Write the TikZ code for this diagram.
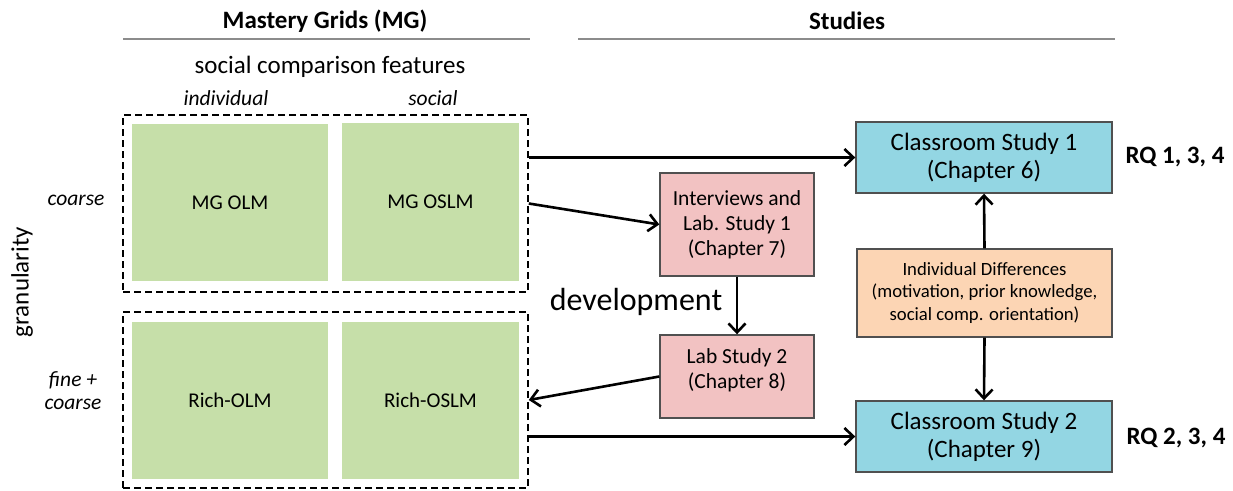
\documentclass[tikz,border=0pt]{standalone}
\usepackage{fontspec}
\setmainfont{Carlito}
\usetikzlibrary{arrows.meta,calc}
\definecolor{cellgreen}{HTML}{C6DFA9}
\definecolor{studyblue}{HTML}{93D6E3}
\definecolor{labpink}{HTML}{F2C2C2}
\definecolor{diffpeach}{HTML}{FCD5B4}
\definecolor{boxedge}{HTML}{505050}
\definecolor{rulegray}{HTML}{8C8C8C}
\tikzset{
  fs/.style 2 args={font=\fontsize{#1}{#2}\selectfont},
  cell/.style={fill=cellgreen, draw=none, inner sep=0pt, fs={21}{24}, align=center},
  group/.style={draw=black, line width=1.6pt, dash pattern=on 7pt off 4pt, inner sep=0pt},
  studybox/.style={fill=studyblue, draw=boxedge, line width=1.4pt, inner sep=0pt, minimum width=256pt, minimum height=71pt, align=center, fs={25}{28}},
  labbox/.style={fill=labpink, draw=boxedge, line width=1.4pt, inner sep=0pt, minimum width=154pt, align=center, fs={21.5}{25}},
  labtext/.style={align=center, fs={21.5}{25}, inner sep=0pt},
  diffbox/.style={fill=diffpeach, draw=boxedge, line width=1.4pt, inner sep=0pt, minimum width=255pt, minimum height=88pt, align=center, fs={18.7}{22.5}},
  flow/.style={line width=2.6pt, -{Straight Barb[length=9pt,width=17pt,line width=2.6pt]}},
  header/.style={font=\fontsize{25}{28}\selectfont\bfseries},
  headrule/.style={draw=rulegray, line width=2.6pt},
  axislabel/.style={font=\fontsize{21.5}{23}\selectfont\itshape, align=center},
  rq/.style={font=\fontsize{25}{28}\selectfont\bfseries},
}
\begin{document}
\begin{tikzpicture}[x=1pt,y=-1pt]
\useasboundingbox (0,0) rectangle (1233,490);

% column headers
\node[header] (mghead) at (325,21) {Mastery Grids (MG)};
\coordinate (mgruleL) at (123,39);
\coordinate (mgruleR) at (530,39);
\draw[headrule] (mgruleL) -- (mgruleR);
\node[header] (sthead) at (847,21) {Studies};
\coordinate (struleL) at (578,39);
\coordinate (struleR) at (1115,39);
\draw[headrule] (struleL) -- (struleR);

% feature axis
\node[fs={25}{28}] (feat) at (330,67) {social comparison features};
\node[axislabel] (indiv) at (226,98) {individual};
\node[axislabel] (soc) at (433,98) {social};

% granularity axis
\node[fs={25}{28}, rotate=90] (gran) at (22,282) {granularity};
\node[axislabel] (coarse) at (76,200) {coarse};
\node[axislabel] (finecoarse) at (73,391) {fine +\\coarse};

% learner model variants
\node[cell, minimum width=196pt, minimum height=157pt] (olm) at (230,202.5) {MG OLM};
\node[cell, minimum width=177pt, minimum height=158pt] (oslm) at (430.5,202) {MG OSLM};
\node[cell, minimum width=196pt, minimum height=157pt] (rolm) at (230,400.5) {Rich-OLM};
\node[cell, minimum width=177pt, minimum height=157pt] (roslm) at (430.5,400.5) {Rich-OSLM};

% dashed groups
\node[group, minimum width=405pt, minimum height=177pt] (topgrp) at (325.5,203.5) {};
\node[group, minimum width=405pt, minimum height=176pt] (botgrp) at (325.5,400) {};

% studies
\node[studybox] (cs1) at (984,157.5) {Classroom Study 1\\(Chapter 6)};
\node[studybox] (cs2) at (984,436.5) {Classroom Study 2\\(Chapter 9)};
\node[diffbox] (diff) at (984.5,293) {Individual Differences\\(motivation, prior knowledge,\\social comp. orientation)};
\node[labbox, minimum height=103pt] (lab1) at (737,224.5) {Interviews and\\Lab. Study 1\\(Chapter 7)};
\node[labbox, minimum height=83pt] (lab2) at (737,376.5) {};
\node[labtext] (lab2text) at ([yshift=6pt]lab2.center) {Lab Study 2\\(Chapter 8)};

\node[rq] (rq1) at (1175,157) {RQ 1, 3, 4};
\node[rq] (rq2) at (1176,438) {RQ 2, 3, 4};

\node[fs={32}{34}] (dev) at (636,302) {development};

% connectors
\draw[flow] (cs1.west -| topgrp.east) -- (cs1.west);
\draw[flow] (topgrp.east) -- (lab1.west);
\draw[flow] (lab1.south) -- (lab2.north);
\draw[flow] (lab2.west) -- (botgrp.east);
\draw[flow] (cs2.west -| botgrp.east) -- (cs2.west);
\draw[flow] (diff.north) -- (cs1.south);
\draw[flow] (diff.south) -- (cs2.north);
\end{tikzpicture}
\end{document}
